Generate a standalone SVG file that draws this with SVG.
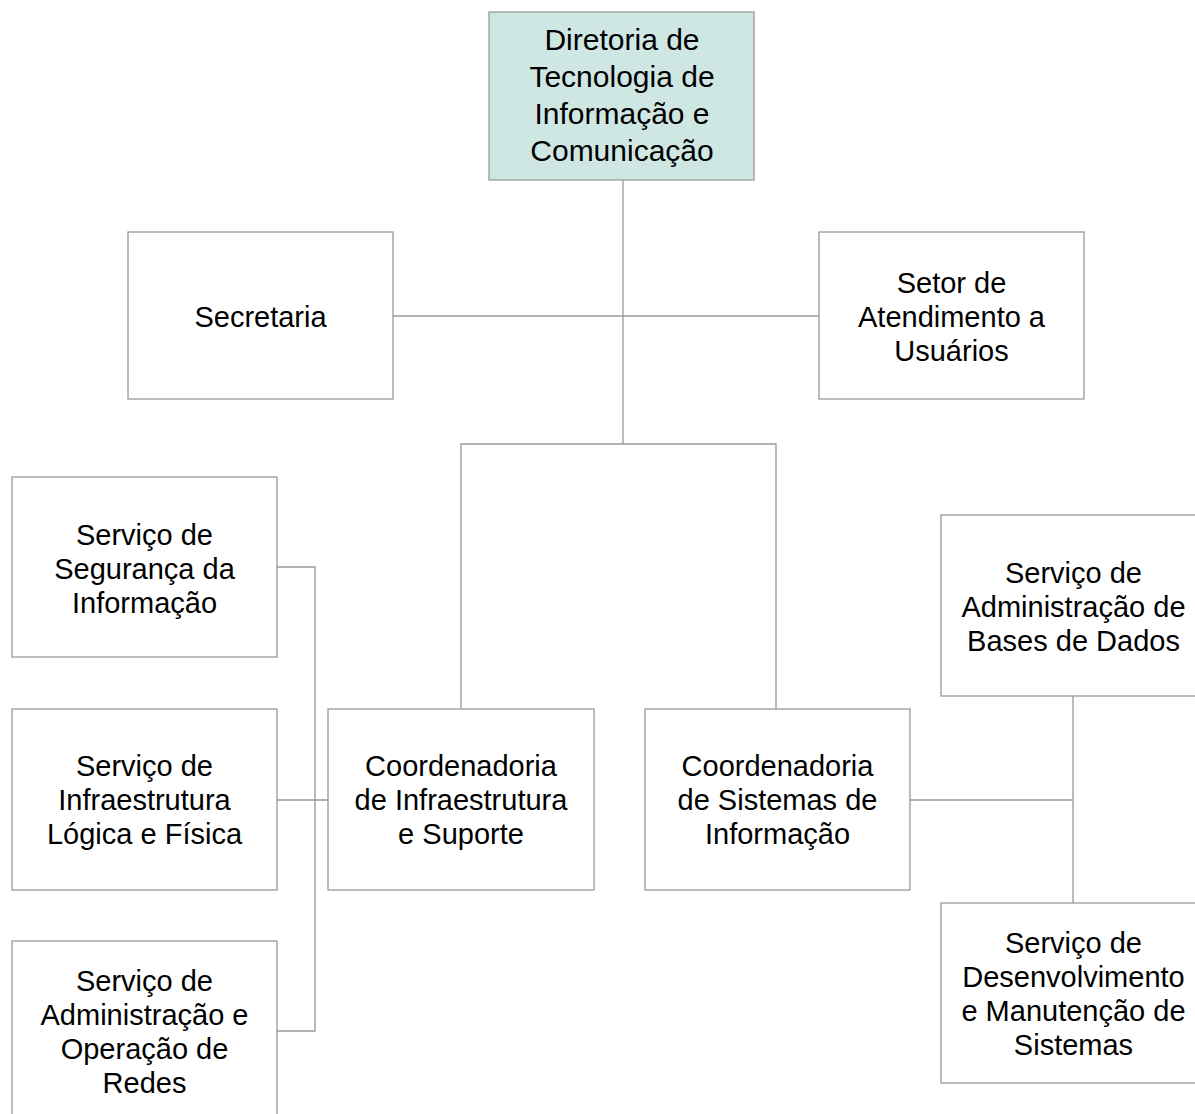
<svg xmlns="http://www.w3.org/2000/svg" width="1195" height="1114" viewBox="0 0 1195 1114">
<style>
.box{fill:#ffffff;stroke:#999999;stroke-width:1.3}
.top{fill:#cfe7e3;stroke:#999999;stroke-width:1.3}
.t{font-family:"Liberation Sans",Arial,sans-serif;font-size:29px;fill:#000;text-anchor:middle}
.tt{font-family:"Liberation Sans",Arial,sans-serif;font-size:30px;fill:#000;text-anchor:middle}
.c{fill:none;stroke:#999999;stroke-width:1.3}
</style>
<rect width="1195" height="1114" fill="#ffffff"/>
<g id="connectors">
<path class="c" d="M623 180V444"/>
<path class="c" d="M393 316H819"/>
<path class="c" d="M461 709V444H776V709"/>
<path class="c" d="M277 567H315V1031H277"/>
<path class="c" d="M277 800H328"/>
<path class="c" d="M910 800H1073"/>
<path class="c" d="M1073 696V903"/>
</g>
<g id="diretoria">
<rect class="top" x="489" y="12" width="265" height="168"/>
<text class="tt" x="622" y="50">Diretoria de</text>
<text class="tt" x="622" y="87">Tecnologia de</text>
<text class="tt" x="622" y="124">Informação e</text>
<text class="tt" x="622" y="161">Comunicação</text>
</g>
<g id="secretaria">
<rect class="box" x="128" y="232" width="265" height="167"/>
<text class="t" x="260.5" y="327">Secretaria</text>
</g>
<g id="setor">
<rect class="box" x="819" y="232" width="265" height="167"/>
<text class="t" x="951.5" y="293">Setor de</text>
<text class="t" x="951.5" y="327">Atendimento a</text>
<text class="t" x="951.5" y="361">Usuários</text>
</g>
<g id="coord-infra">
<rect class="box" x="328" y="709" width="266" height="181"/>
<text class="t" x="461" y="776">Coordenadoria</text>
<text class="t" x="461" y="810">de Infraestrutura</text>
<text class="t" x="461" y="844">e Suporte</text>
</g>
<g id="coord-sist">
<rect class="box" x="645" y="709" width="265" height="181"/>
<text class="t" x="777.5" y="776">Coordenadoria</text>
<text class="t" x="777.5" y="810">de Sistemas de</text>
<text class="t" x="777.5" y="844">Informação</text>
</g>
<g id="seg">
<rect class="box" x="12" y="477" width="265" height="180"/>
<text class="t" x="144.5" y="545">Serviço de</text>
<text class="t" x="144.5" y="579">Segurança da</text>
<text class="t" x="144.5" y="613">Informação</text>
</g>
<g id="infra">
<rect class="box" x="12" y="709" width="265" height="181"/>
<text class="t" x="144.5" y="776">Serviço de</text>
<text class="t" x="144.5" y="810">Infraestrutura</text>
<text class="t" x="144.5" y="844">Lógica e Física</text>
</g>
<g id="redes">
<rect class="box" x="12" y="941" width="265" height="181"/>
<text class="t" x="144.5" y="991">Serviço de</text>
<text class="t" x="144.5" y="1025">Administração e</text>
<text class="t" x="144.5" y="1059">Operação de</text>
<text class="t" x="144.5" y="1093">Redes</text>
</g>
<g id="bases">
<rect class="box" x="941" y="515" width="265" height="181"/>
<text class="t" x="1073.5" y="583">Serviço de</text>
<text class="t" x="1073.5" y="617">Administração de</text>
<text class="t" x="1073.5" y="651">Bases de Dados</text>
</g>
<g id="desenv">
<rect class="box" x="941" y="903" width="265" height="180"/>
<text class="t" x="1073.5" y="953">Serviço de</text>
<text class="t" x="1073.5" y="987">Desenvolvimento</text>
<text class="t" x="1073.5" y="1021">e Manutenção de</text>
<text class="t" x="1073.5" y="1055">Sistemas</text>
</g>
</svg>
